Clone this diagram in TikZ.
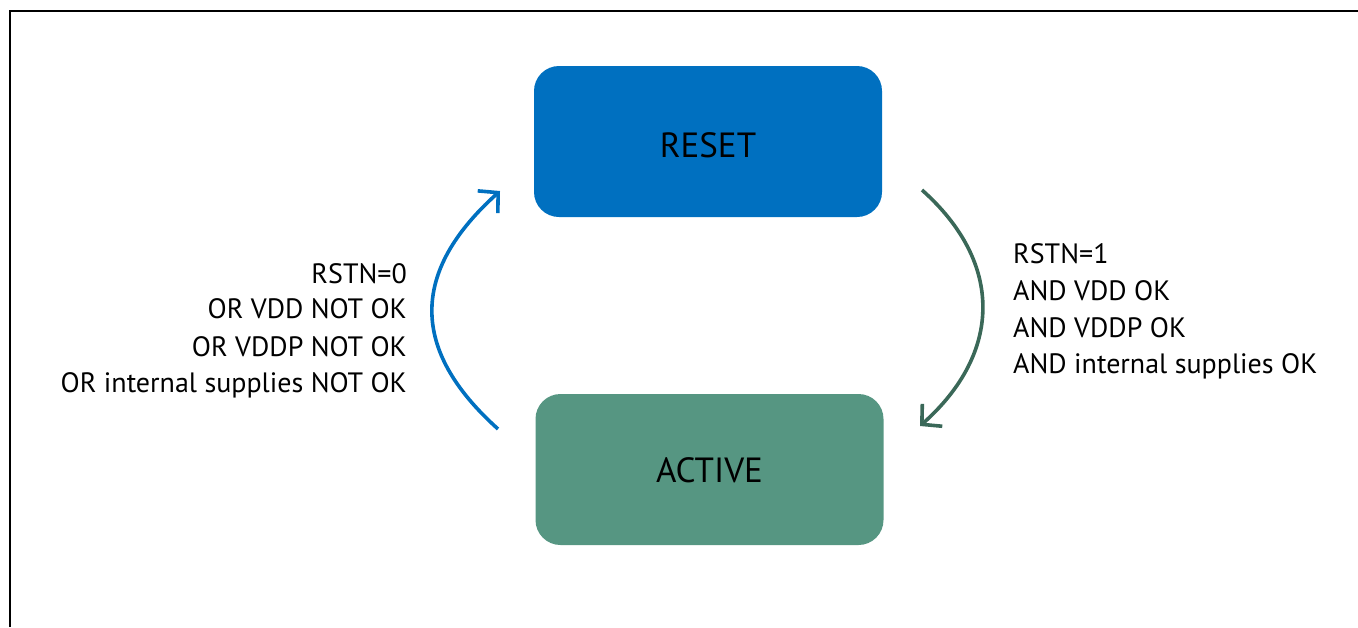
\documentclass[tikz,border=0pt]{standalone}
\usepackage{fontspec}
\setmainfont{PT Sans}
\usetikzlibrary{arrows.meta}
\definecolor{resetblue}{RGB}{0,112,192}
\definecolor{activegreen}{RGB}{86,150,130}
\definecolor{arrowgreen}{RGB}{58,104,88}
\begin{document}
\begin{tikzpicture}[x=1pt,y=-1pt,
  statebox/.style={rounded corners=25pt, minimum width=348pt, minimum height=151pt, inner sep=0pt, font=\fontsize{35}{42}\selectfont, text=black},
  lbl/.style={font=\fontsize{28}{34}\selectfont, inner sep=0pt},
  trans/.style={line width=3.6pt, -{Straight Barb[length=14pt,width=30pt,line width=3.6pt]}}]
\useasboundingbox (0,0) rectangle (1358,627);
\draw[line width=2.5pt] (10,627) -- (10,11) -- (1358,11);
\node[statebox, fill=resetblue, text height=31pt, text depth=0pt] (reset) at (708,141.5) {RESET};
\node[statebox, fill=activegreen, text height=26pt, text depth=0pt] (active) at (709.5,469.5) {ACTIVE};
\coordinate (ls) at (498,429);
\coordinate (le) at (500,191);
\coordinate (rs) at (922,190);
\coordinate (re) at (920,426);
\draw[trans, resetblue] (ls) .. controls (410,350) and (410,272) .. (le);
\draw[trans, arrowgreen] (rs) .. controls (1004,263) and (1002,353) .. (re);
\node[lbl, anchor=base east] (l1) at (407,283) {RSTN=0};
\node[lbl, anchor=base east] (l2) at (407,318.5) {OR VDD NOT OK};
\node[lbl, anchor=base east] (l3) at (407,356) {OR VDDP NOT OK};
\node[lbl, anchor=base east] (l4) at (407,392) {OR internal supplies NOT OK};
\node[lbl, anchor=base west] (r1) at (1013,263) {RSTN=1};
\node[lbl, anchor=base west] (r2) at (1013,300) {AND VDD OK};
\node[lbl, anchor=base west] (r3) at (1013,337) {AND VDDP OK};
\node[lbl, anchor=base west] (r4) at (1013,373) {AND internal supplies OK};
\end{tikzpicture}
\end{document}
